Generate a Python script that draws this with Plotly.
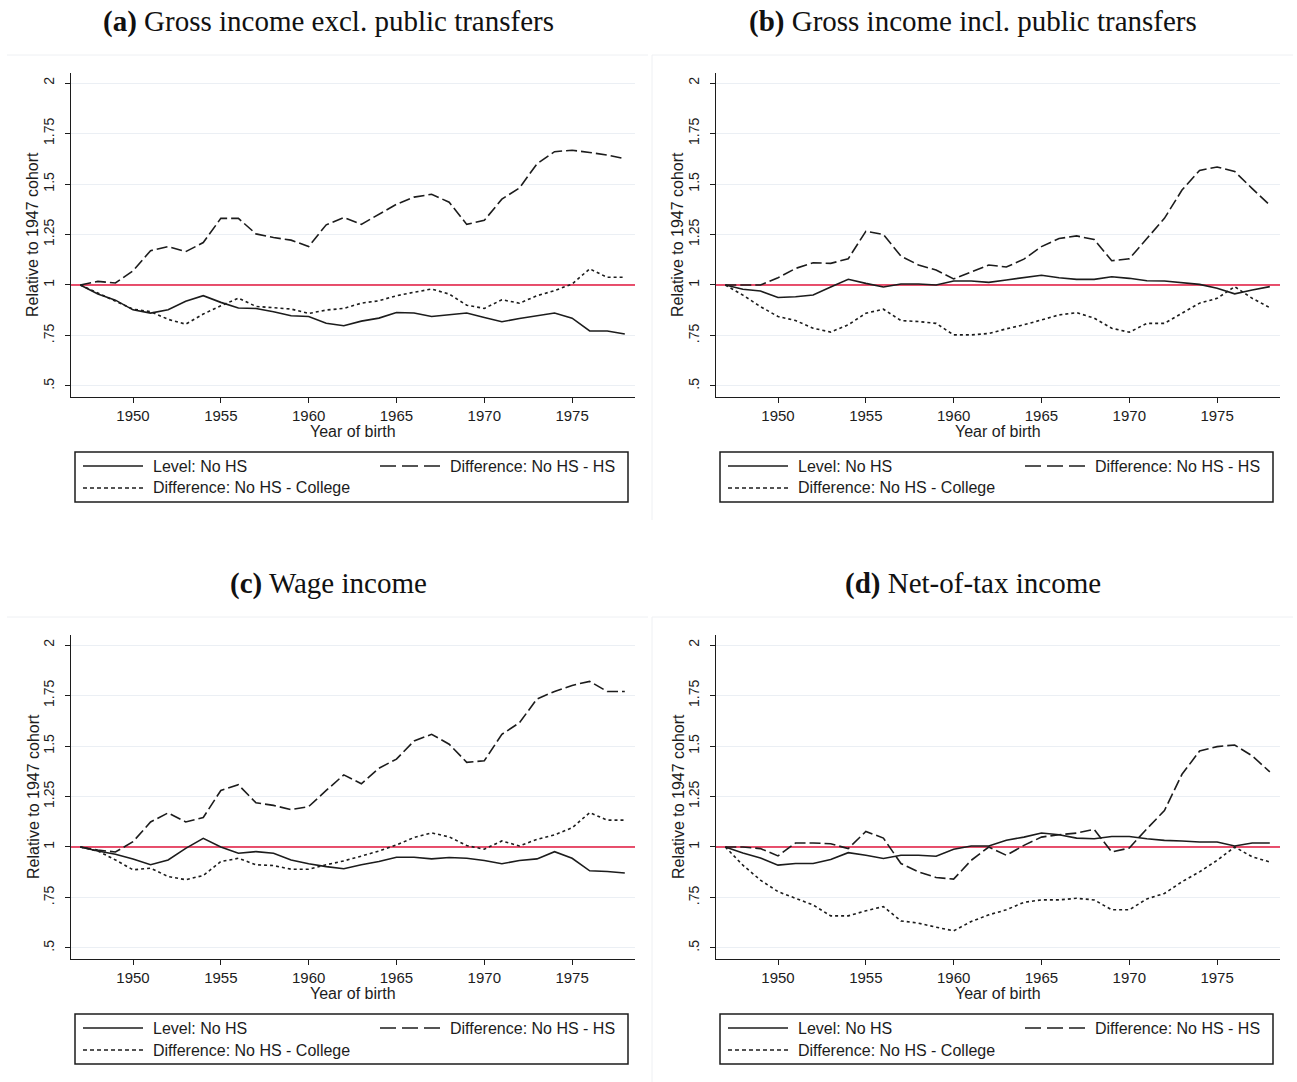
import plotly.graph_objects as go

W, H = 1297, 1082

years = list(range(1947, 1979))

series_names = ["Level: No HS", "Difference: No HS - HS", "Difference: No HS - College"]

panel_titles = [
    "<b>(a)</b> Gross income excl. public transfers",
    "<b>(b)</b> Gross income incl. public transfers",
    "<b>(c)</b> Wage income",
    "<b>(d)</b> Net-of-tax income",
]

# (a) gross income excl. public transfers
a_level = [1.0, 0.955, 0.925, 0.877, 0.861, 0.877, 0.919, 0.947, 0.914, 0.886, 0.884, 0.868,
           0.848, 0.844, 0.811, 0.798, 0.821, 0.836, 0.864, 0.861, 0.844, 0.854, 0.861, 0.839,
           0.818, 0.834, 0.848, 0.861, 0.836, 0.773, 0.772, 0.757]
a_hs = [1.0, 1.018, 1.01, 1.07, 1.17, 1.19, 1.165, 1.21, 1.33, 1.33, 1.253, 1.235,
        1.222, 1.19, 1.298, 1.334, 1.30, 1.35, 1.40, 1.435, 1.449, 1.41, 1.30, 1.32,
        1.425, 1.48, 1.60, 1.66, 1.667, 1.656, 1.643, 1.625]
a_col = [1.0, 0.96, 0.922, 0.88, 0.868, 0.83, 0.806, 0.856, 0.897, 0.935, 0.894, 0.889,
         0.881, 0.859, 0.876, 0.884, 0.91, 0.922, 0.947, 0.964, 0.98, 0.955, 0.90, 0.884,
         0.927, 0.91, 0.947, 0.972, 1.005, 1.08, 1.038, 1.038]

# (b) gross income incl. public transfers
b_level = [1.0, 0.979, 0.97, 0.938, 0.942, 0.95, 0.99, 1.028, 1.008, 0.99, 1.005, 1.005,
           1.0, 1.02, 1.02, 1.013, 1.025, 1.036, 1.048, 1.036, 1.028, 1.028, 1.041, 1.033,
           1.021, 1.02, 1.013, 1.003, 0.984, 0.956, 0.975, 0.992]
b_hs = [1.0, 1.0, 1.0, 1.036, 1.082, 1.11, 1.107, 1.13, 1.266, 1.25, 1.143, 1.099,
        1.074, 1.03, 1.066, 1.099, 1.089, 1.128, 1.19, 1.23, 1.243, 1.225, 1.12, 1.13,
        1.23, 1.33, 1.47, 1.567, 1.584, 1.562, 1.477, 1.395]
b_col = [1.0, 0.95, 0.893, 0.844, 0.824, 0.786, 0.767, 0.803, 0.86, 0.88, 0.824, 0.819,
         0.81, 0.753, 0.753, 0.76, 0.783, 0.803, 0.827, 0.852, 0.863, 0.836, 0.786, 0.766,
         0.81, 0.81, 0.86, 0.91, 0.934, 0.992, 0.934, 0.888]

# (c) wage income
c_level = [1.0, 0.98, 0.964, 0.941, 0.912, 0.936, 0.993, 1.043, 1.0, 0.969, 0.977, 0.969,
           0.936, 0.917, 0.903, 0.892, 0.912, 0.928, 0.949, 0.949, 0.941, 0.948, 0.944, 0.933,
           0.917, 0.933, 0.941, 0.977, 0.944, 0.882, 0.879, 0.871]
c_hs = [1.0, 0.985, 0.975, 1.026, 1.124, 1.169, 1.124, 1.146, 1.28, 1.308, 1.219, 1.206,
        1.185, 1.20, 1.28, 1.357, 1.313, 1.39, 1.435, 1.525, 1.558, 1.509, 1.419, 1.427,
        1.558, 1.615, 1.733, 1.77, 1.80, 1.82, 1.77, 1.77]
c_col = [1.0, 0.98, 0.936, 0.887, 0.895, 0.854, 0.838, 0.859, 0.928, 0.944, 0.912, 0.908,
         0.89, 0.89, 0.912, 0.931, 0.955, 0.98, 1.01, 1.047, 1.07, 1.05, 1.007, 0.989,
         1.03, 1.005, 1.038, 1.06, 1.095, 1.17, 1.133, 1.133]

# (d) net-of-tax income
d_level = [1.0, 0.97, 0.946, 0.91, 0.918, 0.918, 0.938, 0.972, 0.959, 0.943, 0.959, 0.959,
           0.954, 0.989, 1.005, 1.005, 1.033, 1.049, 1.069, 1.061, 1.044, 1.041, 1.052, 1.052,
           1.041, 1.033, 1.03, 1.025, 1.025, 1.005, 1.02, 1.02]
d_hs = [1.0, 1.0, 0.992, 0.956, 1.02, 1.02, 1.016, 0.992, 1.077, 1.044, 0.918, 0.877,
        0.849, 0.841, 0.934, 1.0, 0.959, 1.008, 1.049, 1.061, 1.069, 1.087, 0.975, 0.995,
        1.09, 1.18, 1.36, 1.475, 1.497, 1.505, 1.451, 1.372]
d_col = [1.0, 0.91, 0.836, 0.779, 0.746, 0.713, 0.659, 0.659, 0.684, 0.705, 0.634, 0.623,
         0.603, 0.585, 0.631, 0.664, 0.689, 0.726, 0.738, 0.738, 0.746, 0.738, 0.689, 0.689,
         0.743, 0.77, 0.828, 0.877, 0.934, 1.0, 0.951, 0.926]

panels = [
    (a_level, a_hs, a_col),
    (b_level, b_hs, b_col),
    (c_level, c_hs, c_col),
    (d_level, d_hs, d_col),
]

x_ticks = [1950, 1955, 1960, 1965, 1970, 1975]
y_ticks = [0.5, 0.75, 1, 1.25, 1.5, 1.75, 2]
y_ticktext = [".5", ".75", "1", "1.25", "1.5", "1.75", "2"]
x_range = [1946.47, 1978.58]
y_range = [0.4455, 2.0495]
ref_level = 1


def px_x(v):
    return v / W


def px_y(v):
    return 1 - v / H


INK = "#1c1c1c"
SANS = "Liberation Sans, Arial, sans-serif"
SERIF = "Liberation Serif, Times New Roman, serif"
dashes = ["solid", "11px,4px", "3px,3px"]
key_dashes = ["solid", "16px,6px", "4px,3px"]

# panel offsets in pixels
offsets = [(0, 0), (645, 0), (0, 562), (645, 562)]

fig = go.Figure()
shapes = []
annotations = []

for i, (series, (dx, dy)) in enumerate(zip(panels, offsets)):
    n = "" if i == 0 else str(i + 1)
    for name, vals, dash in zip(series_names, series, dashes):
        fig.add_trace(go.Scatter(
            x=years, y=vals, mode="lines", name=name, showlegend=False,
            line=dict(color=INK, width=1.6, dash=dash),
            xaxis="x" + n, yaxis="y" + n, hoverinfo="skip",
        ))

    fig.update_layout({
        "xaxis" + n: dict(
            domain=[px_x(71 + dx), px_x(635 + dx)], anchor="y" + n,
            range=x_range, tickvals=x_ticks,
            ticks="outside", ticklen=5, tickwidth=1.2, tickcolor=INK,
            showline=True, linecolor=INK, linewidth=1.4,
            showgrid=False, zeroline=False,
            tickfont=dict(family=SANS, size=15, color=INK),
        ),
        "yaxis" + n: dict(
            domain=[px_y(397 + dy), px_y(73 + dy)], anchor="x" + n,
            range=y_range, tickvals=y_ticks, ticktext=y_ticktext,
            tickangle=-90, ticklabelstandoff=5,
            ticks="outside", ticklen=5, tickwidth=1.2, tickcolor=INK,
            showline=True, linecolor=INK, linewidth=1.4,
            showgrid=True, gridcolor="#ebeff4", gridwidth=1, zeroline=False,
            tickfont=dict(family=SANS, size=14, color=INK),
        ),
    })

    # reference line at 1, under the series
    shapes.append(dict(
        type="line", xref="x" + n, yref="y" + n,
        x0=x_range[0], x1=x_range[1], y0=ref_level, y1=ref_level,
        layer="between", line=dict(color="#e3173e", width=1.5),
    ))

    # faint frame of each sub-graph
    shapes.append(dict(
        type="line", xref="paper", yref="paper",
        x0=px_x(7 + dx), x1=px_x(648 + dx), y0=px_y(55 + dy), y1=px_y(55 + dy),
        line=dict(color="#eef0f3", width=1),
    ))
    if dx:
        shapes.append(dict(
            type="line", xref="paper", yref="paper",
            x0=px_x(7 + dx), x1=px_x(7 + dx), y0=px_y(55 + dy), y1=px_y(520 + dy),
            line=dict(color="#eef0f3", width=1),
        ))

    # panel title
    annotations.append(dict(
        text=panel_titles[i], xref="paper", yref="paper",
        x=px_x(328 + dx), y=px_y(21 + dy), xanchor="center", yanchor="middle",
        showarrow=False, font=dict(family=SERIF, size=29, color="#111"),
    ))
    # axis titles
    annotations.append(dict(
        text="Relative to 1947 cohort", xref="paper", yref="paper",
        x=px_x(33 + dx), y=px_y(235 + dy), xanchor="center", yanchor="middle",
        textangle=-90, showarrow=False, font=dict(family=SANS, size=16, color=INK),
    ))
    annotations.append(dict(
        text="Year of birth", xref="paper", yref="paper",
        x=px_x(353 + dx), y=px_y(431 + dy), xanchor="center", yanchor="middle",
        showarrow=False, font=dict(family=SANS, size=16, color=INK),
    ))

    # key box below the plot
    left, top = 75 + dx, 452 + dy
    shapes.append(dict(
        type="rect", xref="paper", yref="paper",
        x0=px_x(left), x1=px_x(left + 553), y0=px_y(top), y1=px_y(top + 50),
        line=dict(color=INK, width=1.5),
    ))
    key_pos = [(left + 8, top + 14), (left + 305, top + 14), (left + 8, top + 36)]
    for name, dash, (kx, ky) in zip(series_names, key_dashes, key_pos):
        shapes.append(dict(
            type="line", xref="paper", yref="paper",
            x0=px_x(kx), x1=px_x(kx + 60), y0=px_y(ky), y1=px_y(ky),
            line=dict(color=INK, width=1.6, dash=dash),
        ))
        annotations.append(dict(
            text=name, xref="paper", yref="paper",
            x=px_x(kx + 68), y=px_y(ky), xanchor="left", yanchor="middle",
            showarrow=False, font=dict(family=SANS, size=16, color=INK),
        ))

fig.update_layout(
    width=W, height=H,
    margin=dict(l=0, r=0, t=0, b=0),
    paper_bgcolor="white", plot_bgcolor="white",
    shapes=shapes, annotations=annotations,
    showlegend=False,
)

fig.write_html(
    "out.html",
    config={"displayModeBar": False},
    post_script="document.body.style.margin = '0';",
)
